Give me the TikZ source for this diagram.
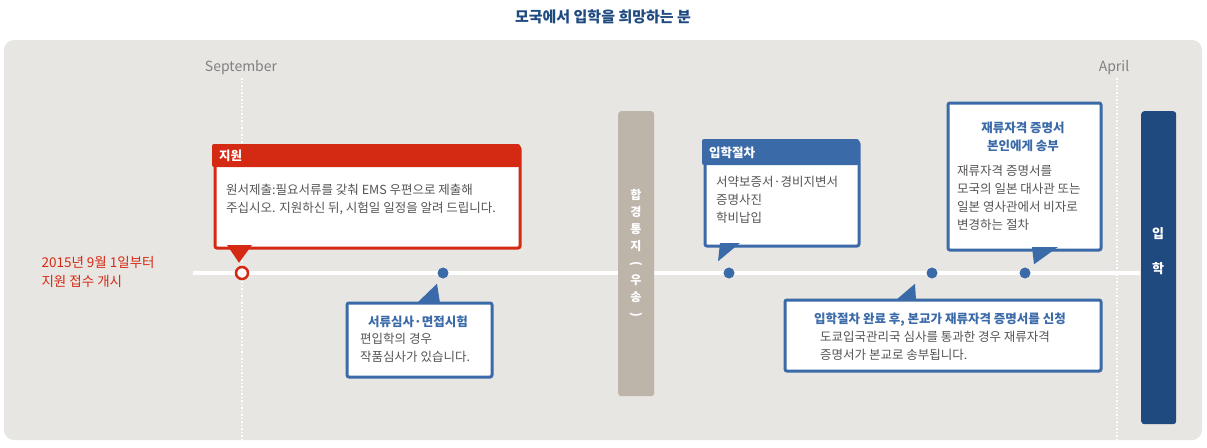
\documentclass[tikz,border=0pt]{standalone}
\usepackage{fontspec}
\setmainfont{Noto Sans CJK KR}
\usetikzlibrary{positioning,calc}
\definecolor{bgpanel}{HTML}{E8E6E2}
\definecolor{appred}{HTML}{D42A14}
\definecolor{stepblue}{HTML}{3B6AA9}
\definecolor{navy}{HTML}{1F4A80}
\definecolor{greybar}{HTML}{BDB5AA}
\definecolor{bodygrey}{HTML}{555555}
\tikzset{
  card/.style={draw=#1, line width=3pt, fill=white, rounded corners=2pt, anchor=north west},
  head/.style={fill=#1, anchor=north west, text=white, font=\bfseries\fontsize{12.5}{14}\selectfont, inner sep=0pt, text height=9pt, text depth=3pt, align=left},
  body/.style={text=bodygrey, font=\fontsize{12.5}{18}\selectfont, align=left, anchor=north west, inner sep=0pt},
  btitle/.style={text=stepblue, font=\bfseries\fontsize{12.5}{18}\selectfont, align=center, inner sep=0pt},
  dot/.style={circle, fill=stepblue, inner sep=0pt, minimum size=11pt},
  month/.style={text=gray, font=\fontsize{14}{15}\selectfont},
}
\begin{document}
\begin{tikzpicture}[x=1pt,y=-1pt]
\useasboundingbox (0,0) rectangle (1207,447);
\node[text=navy, font=\bfseries\fontsize{15}{16}\selectfont] (title) at (603,17) {모국에서 입학을 희망하는 분};
\fill[bgpanel, rounded corners=10pt] (4,40) rectangle (1202,440);

% months
\node[month] (sep) at (241,68) {September};
\node[month] (apr) at (1114,68) {April};
\draw[white, line width=1.2pt, dash pattern=on 1.5pt off 2pt] (242,78) -- (242,440);
\draw[white, line width=1.2pt, dash pattern=on 1.5pt off 2pt] (1117,78) -- (1117,440);

% timeline
\coordinate (tl0) at (193,273);
\coordinate (tl1) at (1140,273);
\draw[white, line width=4pt] (tl0) -- (tl1);
\node[text=appred, font=\fontsize{13.5}{19}\selectfont, align=left, anchor=west] (start) at (38,272) {2015년 9월 1일부터\\지원 접수 개시};

% bars
\node[fill=greybar, rounded corners=3pt, minimum width=36pt, minimum height=285pt, anchor=north west, inner sep=0pt] (pass) at (618,111) {};
\node[text=white, font=\bfseries\fontsize{12}{17}\selectfont, align=center] at (636,254) {합\\경\\통\\지\\\rotatebox[origin=c]{-90}{(}\\우\\송\\\rotatebox[origin=c]{-90}{)}};
\node[fill=navy, rounded corners=3pt, minimum width=35pt, minimum height=313pt, anchor=north west, inner sep=0pt] (entry) at (1141,111) {};
\node[text=white, font=\bfseries\fontsize{13}{35}\selectfont, align=center] at (1158,251) {입\\학};

% dots
\node[circle, draw=appred, line width=2.5pt, fill=white, inner sep=0pt, minimum size=12pt] (d1) at (242,273) {};
\node[dot] (d2) at (443,273) {};
\node[dot] (d3) at (729,273) {};
\node[dot] (d4) at (932,273) {};
\node[dot] (d5) at (1025,273) {};

% 지원
\node[card=appred, minimum width=305pt, minimum height=101pt] (apply) at (213.5,145.5) {};
\fill[appred, rounded corners=2pt] (212,144) rectangle (520,167);
\node[head=appred] (applyh) at (219,151) {지원};
\node[body] (applyb) at (226,184) {원서제출:필요서류를 갖춰 EMS 우편으로 제출해\\주십시오. 지원하신 뒤, 시험일 일정을 알려 드립니다.};
\fill[appred] (227,245) -- ($(d1.north)+(-3,-3)$) -- (252,245) -- cycle;

% 서류심사
\node[card=stepblue, minimum width=145pt, minimum height=74pt] (exam) at (345.5,301.5) {};
\node[btitle] (examh) at (418,322) {서류심사·면접시험};
\node[body] (examb) at (360,333) {편입학의 경우\\작품심사가 있습니다.};
\fill[stepblue] (417,303) -- ($(d2.south)+(-6,5)$) -- (440,303) -- cycle;

% 입학절차
\node[card=stepblue, minimum width=154pt, minimum height=104pt] (proc) at (703.5,140.5) {};
\fill[stepblue, rounded corners=2pt] (702,139) rectangle (859,165);
\node[head=stepblue] (proch) at (709,148) {입학절차};
\node[body] (procb) at (716,176) {서약보증서·경비지변서\\증명사진\\학비납입};
\fill[stepblue] (720,243) -- ($(d3.north)+(-11,-6)$) -- (740,243) -- cycle;

% 재류자격
\node[card=stepblue, minimum width=153pt, minimum height=147pt] (visa) at (946.5,101.5) {};
\node[btitle] (visah) at (1023,137) {재류자격 증명서\\본인에게 송부};
\node[body] (visab) at (957,165) {재류자격 증명서를\\모국의 일본 대사관 또는\\일본 영사관에서 비자로\\변경하는 절차};
\fill[stepblue] (1032,247) -- ($(d5.north)+(9,-3)$) -- (1058,247) -- cycle;

% 완료 후
\node[card=stepblue, minimum width=316pt, minimum height=71pt] (apply2) at (783.5,298.5) {};
\node[btitle] (apply2h) at (940,320) {입학절차 완료 후, 본교가 재류자격 증명서를 신청};
\node[body] (apply2b) at (820,331) {도쿄입국관리국 심사를 통과한 경우 재류자격\\증명서가 본교로 송부됩니다.};
\fill[stepblue] (896,300) -- ($(d4.south)+(-17,5)$) -- (916,300) -- cycle;
\end{tikzpicture}
\end{document}
